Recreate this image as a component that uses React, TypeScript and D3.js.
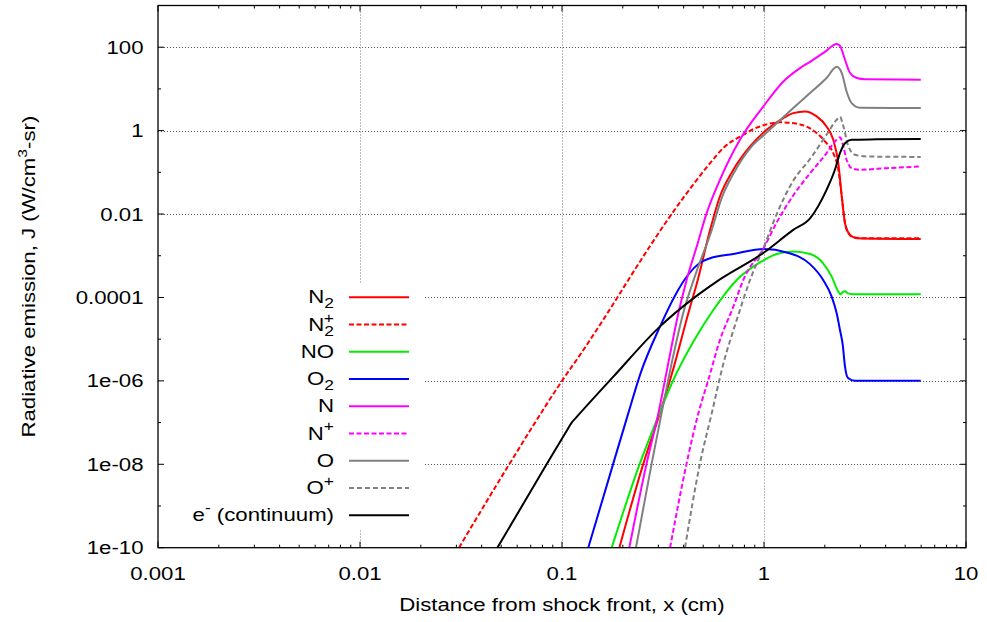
import React from "react";
import * as d3 from "d3";

const W = 987;
const H = 622;

// Axis ticks
const xTicks = [0.001, 0.01, 0.1, 1, 10];
const xTickLabels = ["0.001", "0.01", "0.1", "1", "10"];
const xGrid = [0.01, 0.1, 1];
const yTicks = [1e-10, 1e-8, 1e-6, 1e-4, 1e-2, 1, 100];
const yTickLabels = ["1e-10", "1e-08", "1e-06", "0.0001", "0.01", "1", "100"];
const yMinorTicks = [1e-9, 1e-7, 1e-5, 1e-3, 1e-1, 10];
const yGrid = [1e-8, 1e-6, 1e-4, 1e-2, 1, 100];

// Series data (x in cm, J in W/cm^3-sr)
const n2X = [0.1923, 0.253, 0.305, 0.362, 0.422, 0.47, 0.541, 0.605, 0.705, 0.853, 1.03, 1.247, 1.396, 1.596, 1.824, 2.04, 2.203, 2.333, 2.427, 2.518, 2.667, 2.877, 5.97];
const n2Y = [1e-10, 1.05e-8, 1.66e-7, 2.63e-6, 4.17e-5, 2.63e-4, 4.17e-3, 0.0263, 0.115, 0.417, 1.05, 2.0, 2.63, 2.88, 2.19, 1.26, 0.603, 0.166, 0.0263, 0.006, 0.00316, 0.00263, 0.00251];

const n2pX = [0.0309, 0.0548, 0.1, 0.1276, 0.188, 0.213, 0.349, 0.465, 0.541, 0.641, 0.76, 0.955, 1.2, 1.507, 1.824, 2.04, 2.203, 2.333, 2.427, 2.518, 2.618, 2.773, 3.16, 5.97];
const n2pY = [1e-10, 1e-8, 1e-6, 5.5e-6, 1e-4, 2.63e-4, 0.01, 0.066, 0.166, 0.417, 0.718, 1.26, 1.58, 1.41, 0.871, 0.5, 0.288, 0.115, 0.0263, 0.006, 0.00347, 0.00275, 0.00263, 0.00263];

const noX = [0.1762, 0.243, 0.2944, 0.3556, 0.4467, 0.561, 0.733, 0.955, 1.156, 1.396, 1.69, 1.963, 2.163, 2.333, 2.39, 2.45, 2.518, 2.6, 2.75, 5.97];
const noY = [1e-10, 1.05e-8, 1.15e-7, 1.05e-6, 8.7e-6, 5e-5, 2.63e-4, 6.9e-4, 1.1e-3, 1.26e-3, 1.1e-3, 6.6e-4, 3.16e-4, 1.38e-4, 1.2e-4, 1.35e-4, 1.4e-4, 1.25e-4, 1.2e-4, 1.2e-4];

const o2X = [0.1349, 0.1795, 0.2128, 0.2455, 0.3055, 0.363, 0.422, 0.4786, 0.541, 0.705, 1.0, 1.294, 1.69, 1.963, 2.163, 2.29, 2.377, 2.455, 2.512, 2.606, 2.818, 5.97];
const o2Y = [1e-10, 1.05e-8, 1.66e-7, 1.58e-6, 2e-5, 1.12e-4, 3.55e-4, 6.6e-4, 8.7e-4, 1.1e-3, 1.45e-3, 1.2e-3, 6.3e-4, 2.63e-4, 1.05e-4, 4.17e-5, 1.66e-5, 7.2e-6, 2.4e-6, 1.17e-6, 1e-6, 1e-6];

const nX = [0.2153, 0.2624, 0.2999, 0.3357, 0.3767, 0.414, 0.4645, 0.52, 0.605, 0.76, 0.993, 1.247, 1.507, 1.69, 1.995, 2.29, 2.377, 2.518, 2.667, 2.877, 3.16, 5.97];
const nY = [1e-10, 1.05e-8, 1.66e-7, 2.63e-6, 4.17e-5, 2.63e-4, 1.66e-3, 0.0105, 0.066, 0.603, 3.8, 15.1, 31.6, 44.7, 75.9, 120, 107, 50.1, 24, 18.2, 17, 16.6];

const npX = [0.3428, 0.414, 0.473, 0.53, 0.605, 0.705, 0.794, 1.0, 1.156, 1.396, 1.69, 2.04, 2.244, 2.377, 2.472, 2.564, 2.716, 2.985, 4.05, 5.97];
const npY = [1e-10, 1.05e-8, 1.66e-7, 1.05e-6, 9.5e-6, 6e-5, 2.8e-4, 1.58e-3, 6.3e-3, 0.028, 0.095, 0.288, 0.55, 0.69, 0.417, 0.2, 0.126, 0.115, 0.126, 0.138];

const oX = [0.2323, 0.278, 0.311, 0.349, 0.398, 0.462, 0.55, 0.617, 0.716, 0.861, 1.012, 1.156, 1.396, 1.69, 2.04, 2.29, 2.427, 2.564, 2.716, 2.985, 5.97];
const oY = [1e-10, 1.05e-8, 1.66e-7, 2.63e-6, 4.17e-5, 4e-4, 4e-3, 0.024, 0.105, 0.398, 0.83, 1.51, 3.47, 7.94, 18.2, 33.9, 24, 8.7, 4.57, 3.55, 3.47];

const opX = [0.4064, 0.482, 0.551, 0.63, 0.733, 0.853, 1.0, 1.156, 1.396, 1.69, 2.04, 2.29, 2.377, 2.472, 2.618, 2.825, 3.228, 5.97];
const opY = [1e-10, 1.05e-8, 1.66e-7, 2.63e-6, 2.9e-5, 2.63e-4, 1.66e-3, 0.01, 0.063, 0.209, 0.794, 1.82, 2.14, 1.26, 0.417, 0.263, 0.24, 0.234];

const eX = [0.0479, 0.0839, 0.105, 0.1117, 0.118, 0.1795, 0.305, 0.4467, 0.583, 1.0, 1.396, 1.69, 2.04, 2.244, 2.377, 2.518, 2.716, 3.61, 5.97];
const eY = [1e-10, 1e-8, 6.1e-8, 1e-7, 1.35e-7, 1.26e-6, 2e-5, 9.5e-5, 2.4e-4, 1.2e-3, 4.17e-3, 7.9e-3, 0.038, 0.115, 0.288, 0.5, 0.603, 0.617, 0.63];

type Part = { t: string; k?: "sub" | "sup" | "subsup" };
const series: { xs: number[]; ys: number[]; color: string; dash?: string; label: Part[] }[] = [
  { xs: n2X, ys: n2Y, color: "#ff0000", label: [{ t: "N" }, { t: "2", k: "sub" }] },
  { xs: n2pX, ys: n2pY, color: "#ff0000", dash: "5,2.5", label: [{ t: "N" }, { t: "2", k: "sub" }, { t: "+", k: "subsup" }] },
  { xs: noX, ys: noY, color: "#00ee00", label: [{ t: "NO" }] },
  { xs: o2X, ys: o2Y, color: "#0000ff", label: [{ t: "O" }, { t: "2", k: "sub" }] },
  { xs: nX, ys: nY, color: "#ff00ff", label: [{ t: "N" }] },
  { xs: npX, ys: npY, color: "#ff00ff", dash: "5,2.5", label: [{ t: "N" }, { t: "+", k: "sup" }] },
  { xs: oX, ys: oY, color: "#808080", label: [{ t: "O" }] },
  { xs: opX, ys: opY, color: "#808080", dash: "5,3", label: [{ t: "O" }, { t: "+", k: "sup" }] },
  { xs: eX, ys: eY, color: "#000000", label: [{ t: "e" }, { t: "-", k: "sup" }, { t: " (continuum)" }] },
];

const FONT = "'Liberation Sans', Arial, Helvetica, sans-serif";
const FS = 18.5;
const SX = 1.2;

const L = 158, R = 966, T = 5.5, B = 547.7;

function Label({ x, y, anchor, children, rotate = 0, size = FS }: any) {
  return (
    <text
      transform={`translate(${x},${y}) rotate(${rotate}) scale(${SX},1)`}
      textAnchor={anchor}
      fontFamily={FONT}
      fontSize={size}
      fill="#000"
    >
      {children}
    </text>
  );
}

export default function App() {
  const x = d3.scaleLog().domain([0.001, 10]).range([L, R]);
  const y = d3.scaleLog().domain([1e-10, 1e3]).range([B, T]);

  const line = d3
    .line<[number, number]>()
    .x((d) => x(d[0]))
    .y((d) => y(d[1]))
    .curve(d3.curveMonotoneX);

  const xMinor: number[] = [];
  for (let dec = 0.001; dec < 10; dec *= 10) {
    for (let m = 2; m <= 9; m++) xMinor.push(dec * m);
  }

  const legX0 = 349, legX1 = 409, legTextX = 334, legY0 = 297.3, legDY = 27.25;

  return (
    <svg width={W} height={H} style={{ position: "absolute", left: 0, top: 0, background: "#fff" }}>
      <defs>
        <clipPath id="plotclip">
          <rect x={L} y={T} width={R - L} height={B - T} />
        </clipPath>
      </defs>
      <rect width={W} height={H} fill="#fff" />
      {/* grid */}
      {xGrid.map((v) => (
        <line key={"gx" + v} x1={Math.round(x(v)) + 0.5} x2={Math.round(x(v)) + 0.5} y1={T} y2={B} stroke="#777" strokeWidth={1} strokeDasharray="1,2" />
      ))}
      {yGrid.map((v) => (
        <line key={"gy" + v} x1={L} x2={R} y1={Math.round(y(v)) + 0.5} y2={Math.round(y(v)) + 0.5} stroke="#555" strokeWidth={1} strokeDasharray="1,2" />
      ))}
      {/* legend opaque box */}
      <rect x={L + 1} y={284} width={423 - L - 1} height={529 - 284} fill="#fff" />
      {/* ticks */}
      {xTicks.map((v) => (
        <g key={"xt" + v}>
          <line x1={x(v)} x2={x(v)} y1={B} y2={B - 6} stroke="#000" />
          <line x1={x(v)} x2={x(v)} y1={T} y2={T + 6} stroke="#000" />
        </g>
      ))}
      {xMinor.map((v) => (
        <g key={"xm" + v}>
          <line x1={x(v)} x2={x(v)} y1={B} y2={B - 3} stroke="#000" />
          <line x1={x(v)} x2={x(v)} y1={T} y2={T + 3} stroke="#000" />
        </g>
      ))}
      {yTicks.map((v) => (
        <g key={"yt" + v}>
          <line x1={L} x2={L + 6} y1={y(v)} y2={y(v)} stroke="#000" />
          <line x1={R} x2={R - 6} y1={y(v)} y2={y(v)} stroke="#000" />
        </g>
      ))}
      {yMinorTicks.map((v) => (
        <g key={"ym" + v}>
          <line x1={L} x2={L + 3} y1={y(v)} y2={y(v)} stroke="#000" />
          <line x1={R} x2={R - 3} y1={y(v)} y2={y(v)} stroke="#000" />
        </g>
      ))}
      {/* curves */}
      <g clipPath="url(#plotclip)">
        {series.map((s, i) => (
          <path
            key={"s" + i}
            d={line(s.xs.map((xv, j) => [xv, s.ys[j]] as [number, number])) || ""}
            fill="none"
            stroke={s.color}
            strokeWidth={2}
            strokeDasharray={s.dash}
            strokeLinejoin="round"
          />
        ))}
      </g>
      {/* border */}
      <rect x={L} y={T} width={R - L} height={B - T} fill="none" stroke="#000" strokeWidth={1.3} />
      {/* tick labels */}
      {xTicks.map((v, i) => (
        <Label key={"xl" + v} x={x(v)} y={579.5} anchor="middle">
          {xTickLabels[i]}
        </Label>
      ))}
      {yTicks.map((v, i) => (
        <Label key={"yl" + v} x={143.5} y={y(v) + 6.6} anchor="end">
          {yTickLabels[i]}
        </Label>
      ))}
      {/* axis titles */}
      <Label x={(L + R) / 2} y={611} anchor="middle">
        Distance from shock front, x (cm)
      </Label>
      <Label x={34.5} y={(T + B) / 2} anchor="middle" rotate={-90}>
        Radiative emission, J (W/cm
        <tspan fontSize={13} dy={-8}>3</tspan>
        <tspan dy={8}>-sr)</tspan>
      </Label>
      {/* legend */}
      {series.map((s, i) => {
        const ry = legY0 + i * legDY;
        return (
          <g key={"lg" + i}>
            <Label x={legTextX} y={ry + 6} anchor="end">
              {s.label.map((p, j) => {
                if (p.k === "sub")
                  return (
                    <tspan key={j} fontSize={14.5} dy={5}>
                      {p.t}
                    </tspan>
                  );
                if (p.k === "subsup")
                  return (
                    <tspan key={j} fontSize={14.5} dx={-8.5} dy={-13}>
                      {p.t}
                    </tspan>
                  );
                if (p.k === "sup")
                  return (
                    <tspan key={j} fontSize={14.5} dy={-8.5}>
                      {p.t}
                    </tspan>
                  );
                const prev = s.label[j - 1];
                return (
                  <tspan key={j} dy={prev && prev.k === "sup" ? 8.5 : 0}>
                    {p.t}
                  </tspan>
                );
              })}
            </Label>
            <line x1={legX0} x2={legX1} y1={ry} y2={ry} stroke={s.color} strokeWidth={2} strokeDasharray={s.dash} />
          </g>
        );
      })}
    </svg>
  );
}
